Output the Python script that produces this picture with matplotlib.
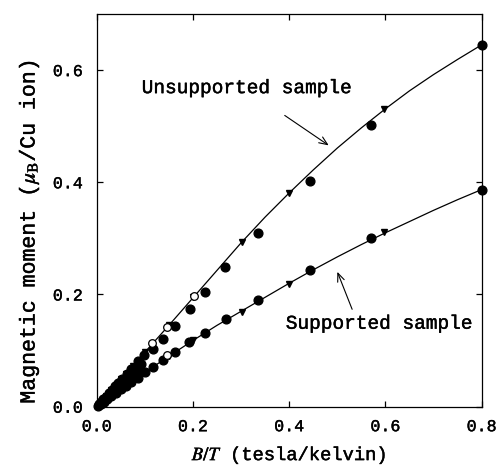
import matplotlib
matplotlib.use("Agg")
import matplotlib.pyplot as plt
import matplotlib.patheffects as pe

# smooth fit curves
curve_x = [0.0, 0.05, 0.1, 0.15, 0.2, 0.25, 0.3, 0.35, 0.4, 0.45, 0.5, 0.55, 0.6, 0.65, 0.7, 0.75, 0.8]
unsup_curve = [0.0, 0.048, 0.097, 0.145, 0.194, 0.243, 0.292, 0.338, 0.381, 0.422, 0.461, 0.497, 0.531, 0.563, 0.592, 0.619, 0.645]
sup_curve = [0.0, 0.031, 0.061, 0.090, 0.118, 0.145, 0.170, 0.195, 0.220, 0.244, 0.267, 0.289, 0.310, 0.330, 0.350, 0.369, 0.387]

# unsupported sample data
unsup_circ_x = [0.8, 0.570, 0.443, 0.335, 0.267, 0.225, 0.194, 0.163, 0.137, 0.117, 0.098, 0.085,
                0.072, 0.062, 0.053, 0.045, 0.038, 0.031, 0.025, 0.019, 0.014, 0.009, 0.005]
unsup_circ_y = [0.644, 0.503, 0.403, 0.310, 0.249, 0.2045, 0.175, 0.143, 0.120, 0.103, 0.093, 0.081,
                0.068, 0.059, 0.050, 0.043, 0.036, 0.030, 0.024, 0.018, 0.013, 0.009, 0.005]
unsup_tri_x = [0.598, 0.400, 0.301, 0.2, 0.15, 0.1, 0.075, 0.06, 0.05, 0.04, 0.03, 0.02, 0.01]
unsup_tri_y = [0.531, 0.381, 0.293, 0.195, 0.146, 0.098, 0.073, 0.059, 0.049, 0.039, 0.029, 0.019, 0.010]
unsup_open_x = [0.203, 0.146, 0.114]
unsup_open_y = [0.198, 0.142, 0.113]

# supported sample data
sup_circ_x = [0.8, 0.570, 0.443, 0.335, 0.269, 0.225, 0.192, 0.163, 0.137, 0.117, 0.1, 0.085,
              0.072, 0.06, 0.05, 0.04, 0.03, 0.022, 0.015, 0.008]
sup_circ_y = [0.387, 0.301, 0.244, 0.191, 0.156, 0.132, 0.116, 0.098, 0.083, 0.071, 0.061, 0.052,
              0.044, 0.037, 0.031, 0.025, 0.019, 0.014, 0.009, 0.005]
sup_tri_x = [0.598, 0.400, 0.301, 0.2, 0.15, 0.1, 0.075, 0.05, 0.025]
sup_tri_y = [0.312, 0.219, 0.169, 0.118, 0.090, 0.061, 0.046, 0.031, 0.016]
sup_open_x = [0.147]
sup_open_y = [0.092]

# dense low-field points between the two curves
low_x = [0.092, 0.085, 0.080, 0.076, 0.070, 0.066, 0.062, 0.058, 0.054, 0.050, 0.046, 0.042,
         0.038, 0.034, 0.030, 0.026, 0.022, 0.018, 0.014, 0.010, 0.006, 0.003]
low_y = [0.076, 0.068, 0.065, 0.060, 0.056, 0.053, 0.050, 0.046, 0.043, 0.040, 0.037, 0.034,
         0.030, 0.027, 0.024, 0.021, 0.018, 0.014, 0.011, 0.008, 0.005, 0.002]

plt.rcParams['font.family'] = ['Liberation Mono', 'DejaVu Serif']
plt.rcParams['mathtext.fontset'] = 'stix'
thick = [pe.withStroke(linewidth=0.3, foreground='black')]

fig = plt.figure(figsize=(4.96, 4.70), dpi=100)
ax = fig.add_axes([0.195, 0.1347, 0.776, 0.8355])

ax.plot(curve_x, unsup_curve, color='black', lw=0.9)
ax.plot(curve_x, sup_curve, color='black', lw=0.9)

for xs, ys in [(unsup_circ_x, unsup_circ_y), (sup_circ_x, sup_circ_y), (low_x, low_y)]:
    ax.plot(xs, ys, 'o', color='black', ms=6.3, clip_on=False)
for xs, ys in [(unsup_tri_x, unsup_tri_y), (sup_tri_x, sup_tri_y)]:
    ax.plot(xs, ys, 'v', color='black', ms=4.5, clip_on=False)
for xs, ys in [(unsup_open_x, unsup_open_y), (sup_open_x, sup_open_y)]:
    ax.plot(xs, ys, 'o', mfc='white', mec='black', mew=0.9, ms=5.5)

ax.text(0.0935, 0.567, 'Unsupported sample', fontsize=14, va='center', ha='left', path_effects=thick)
ax.text(0.393, 0.147, 'Supported sample', fontsize=14, va='center', ha='left', path_effects=thick)
ax.annotate('', xy=(0.487, 0.463), xytext=(0.386, 0.522),
            arrowprops=dict(arrowstyle='->,head_length=0.6,head_width=0.25', color='black', lw=0.8))
ax.annotate('', xy=(0.498, 0.245), xytext=(0.533, 0.169),
            arrowprops=dict(arrowstyle='->,head_length=0.6,head_width=0.25', color='black', lw=0.8))

ax.set_xlim(0, 0.8)
ax.set_ylim(0, 0.7)
ax.set_xticks([0.0, 0.2, 0.4, 0.6, 0.8])
ax.set_yticks([0.0, 0.2, 0.4, 0.6])
ax.tick_params(direction='in', top=True, right=True, length=4, width=0.9, labelsize=12)
ax.tick_params(axis='x', pad=9)
ax.tick_params(axis='y', pad=10)
for lab in ax.get_xticklabels() + ax.get_yticklabels():
    lab.set_path_effects(thick)
for s in ax.spines.values():
    s.set_linewidth(0.9)

ax.set_xlabel(r'$B/T$ (tesla/kelvin)', fontsize=13.5, path_effects=thick)
ax.set_ylabel(r'Magnetic moment ($\mu_{\rm B}$/Cu ion)', fontsize=15.5, path_effects=thick)
ax.xaxis.set_label_coords(0.5, -0.098)
ax.yaxis.set_label_coords(-0.143, 0.445)

fig.savefig('out.png', dpi=100)
